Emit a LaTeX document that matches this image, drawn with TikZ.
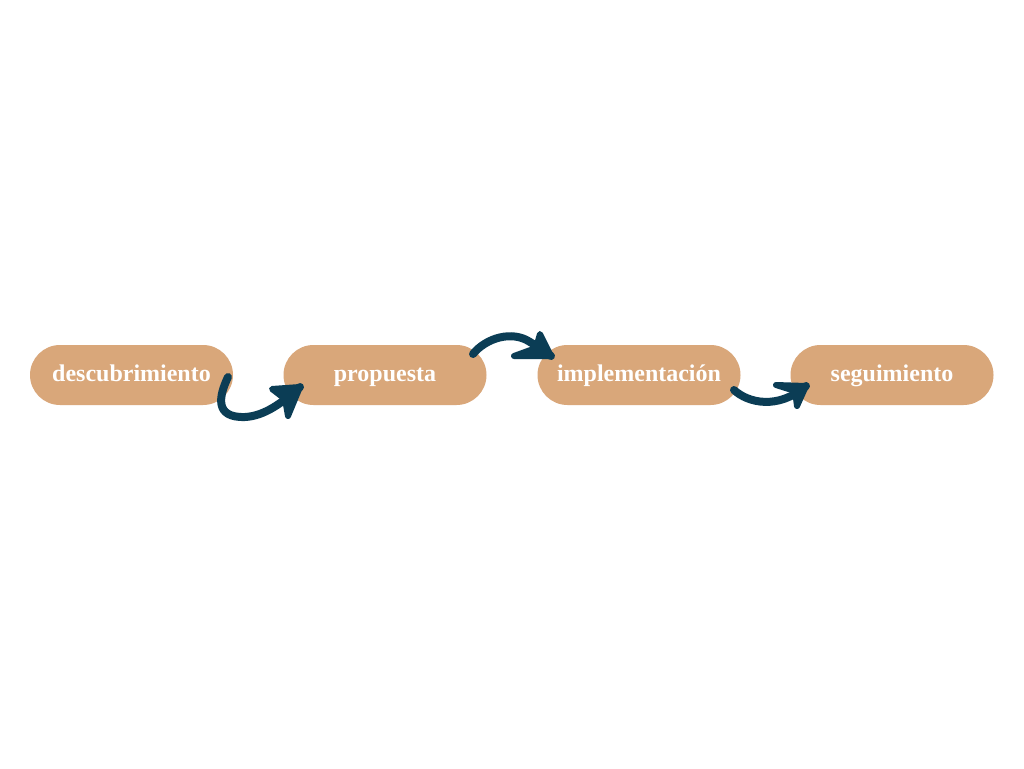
\documentclass[tikz,border=0pt]{standalone}
\usepackage{fontspec}
\setmainfont{Liberation Serif}
\definecolor{boxc}{HTML}{D9A77A}
\definecolor{arrc}{HTML}{0B3D55}
\begin{document}
\begin{tikzpicture}[x=1pt,y=-1pt,
  stage/.style={fill=boxc,rounded corners=30pt,minimum width=203pt,minimum height=60pt,
    text=white,font=\fontsize{24}{28}\selectfont\bfseries,inner sep=0pt,
    text height=14pt,text depth=2pt},
  brush/.style={draw=arrc,line width=8pt,line cap=round,line join=round},
  head/.style={draw=arrc,fill=arrc,line width=6pt,line cap=round,line join=round}]
\useasboundingbox (0,0) rectangle (1024,768);
\fill[white] (0,0) rectangle (1024,768);
\node[stage] (s1) at (131.5,375) {descubrimiento};
\node[stage] (s2) at (385,375) {propuesta};
\node[stage] (s3) at (639,375) {implementación};
\node[stage] (s4) at (892,375) {seguimiento};
% arrow 1
\coordinate (a1s) at (228,377);
\coordinate (a1t) at (300,387);
\draw[brush] (a1s) .. controls (219,396) and (214,418) .. (245,417)
  .. controls (265,416) and (283,402) .. (a1t);
\draw[head] (272,389) -- (a1t) -- (288,416) -- (285,399) -- cycle;
% arrow 2
\coordinate (a2s) at (473,354);
\coordinate (a2t) at (551,356);
\draw[brush] (a2s) .. controls (486,338) and (512,330) .. (530,342)
  .. controls (540,348) and (545,352) .. (a2t);
\draw[head] (540,334) -- (a2t) -- (514,356) -- (536,348) -- cycle;
% arrow 3
\coordinate (a3s) at (734,390);
\coordinate (a3t) at (806,386);
\draw[brush] (a3s) .. controls (748,403) and (778,410) .. (a3t);
\draw[head] (776,385) -- (a3t) -- (797,406) -- (795,391) -- cycle;
\end{tikzpicture}
\end{document}
